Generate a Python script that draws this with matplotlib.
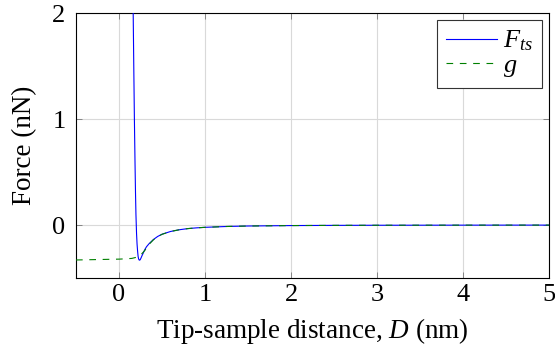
import matplotlib
matplotlib.use("Agg")
import matplotlib.pyplot as plt

plt.rcParams['font.family'] = ['Liberation Serif', 'DejaVu Serif']
plt.rcParams['mathtext.fontset'] = 'custom'
plt.rcParams['mathtext.rm'] = 'Liberation Serif'
plt.rcParams['mathtext.it'] = 'Liberation Serif:italic'

# g (long-range attractive part)
g_D = [-0.5, 0.0, 0.1, 0.15, 0.2, 0.25, 0.3, 0.35, 0.4, 0.45, 0.5, 0.6, 0.7, 0.8,
       0.9, 1.0, 1.25, 1.5, 2.0, 2.5, 3.0, 4.0, 5.0]
g_F = [-0.33, -0.322, -0.318, -0.315, -0.305, -0.285, -0.24, -0.182, -0.14, -0.11,
       -0.088, -0.061, -0.045, -0.034, -0.027, -0.022, -0.014, -0.0095, -0.0054,
       -0.0035, -0.0024, -0.0014, -0.0009]

# F_ts (tip-sample force)
f_D = [0.165, 0.172, 0.179, 0.186, 0.192, 0.197, 0.204, 0.210, 0.216, 0.222,
       0.228, 0.234, 0.240, 0.247, 0.254, 0.262, 0.270, 0.28, 0.29, 0.3, 0.32,
       0.35, 0.4, 0.45, 0.5, 0.6, 0.7, 0.8, 0.9, 1.0, 1.25, 1.5, 2.0, 2.5, 3.0,
       4.0, 5.0]
f_F = [2.0, 1.48, 1.0, 0.6, 0.3, 0.1, -0.08, -0.18, -0.245, -0.295,
       -0.32, -0.33, -0.332, -0.327, -0.315, -0.30, -0.285, -0.268, -0.25, -0.232, -0.205,
       -0.176, -0.137, -0.108, -0.087, -0.061, -0.045, -0.034, -0.027, -0.022,
       -0.014, -0.0095, -0.0054, -0.0035, -0.0024, -0.0014, -0.0009]

xticks = [0, 1, 2, 3, 4, 5]
yticks = [0, 1, 2]

FS = 19
LFS = 19.5

fig = plt.figure(figsize=(5.55, 3.56), dpi=100)
ax = fig.add_axes([76/555, 78/356, 473/555, 265/356])

ax.plot(f_D, f_F, color='blue', lw=0.8, label='$F_{ts}$', zorder=3)
ax.plot(g_D, g_F, color=(0, 0.5, 0), lw=0.8, ls=(0, (6, 6)), label='$g$', zorder=4)

ax.set_xlim(-0.5, 5)
ax.set_ylim(-0.5, 2)
ax.set_xticks(xticks)
ax.set_yticks(yticks)
ax.grid(True, color='#d9d9d9', lw=0.8)
ax.set_axisbelow(True)
ax.tick_params(direction='in', length=4, width=0.6, color='#777777', labelsize=FS,
               top=True, right=True)
ax.tick_params(axis='x', pad=4.5)
ax.tick_params(axis='y', pad=7.5)
for s in ax.spines.values():
    s.set_linewidth(0.8)

ax.set_xlabel('Tip-sample distance, $D$ (nm)', fontsize=LFS, labelpad=7)
ax.set_ylabel('Force (nN)', fontsize=LFS, labelpad=11)

leg = ax.legend(loc='upper right', fontsize=FS, frameon=True, fancybox=False,
                edgecolor='#333333', framealpha=1, handlelength=1.9,
                borderaxespad=0.25, borderpad=0.35, handletextpad=0.25,
                labelspacing=0.0)
leg.get_frame().set_linewidth(0.8)

fig.savefig('out.png', dpi=100)
